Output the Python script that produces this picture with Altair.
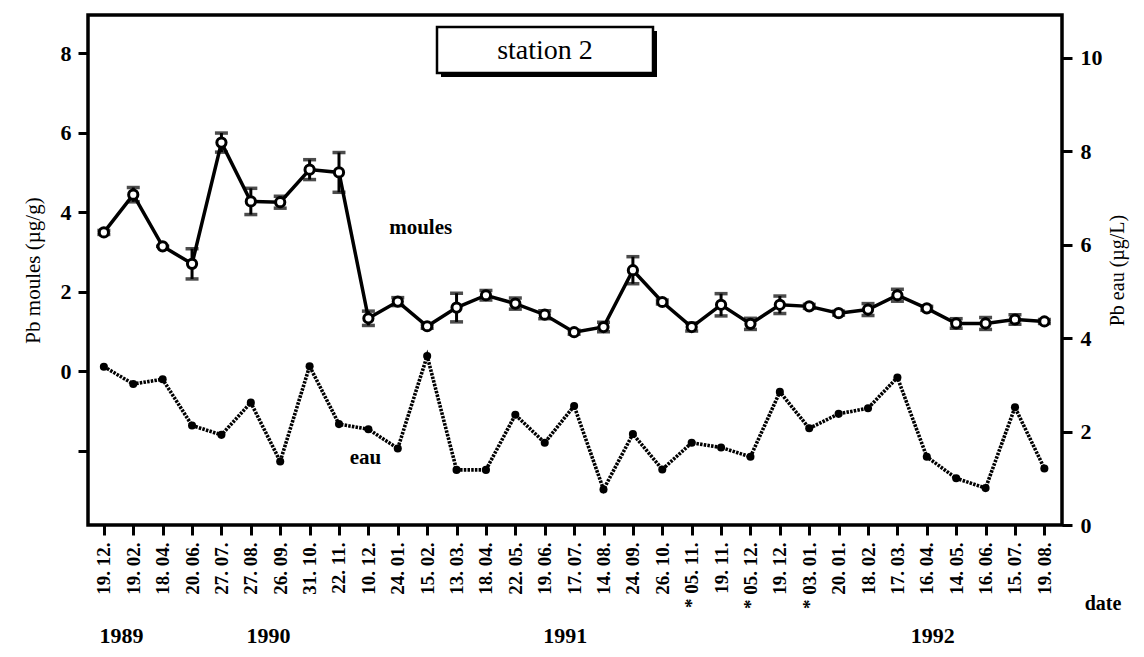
import altair as alt
import pandas as pd

# ---- data ----
dates = ["19. 12.", "19. 02.", "18. 04.", "20. 06.", "27. 07.", "27. 08.", "26. 09.",
         "31. 10.", "22. 11.", "10. 12.", "24. 01.", "15. 02.", "13. 03.", "18. 04.",
         "22. 05.", "19. 06.", "17. 07.", "14. 08.", "24. 09.", "26. 10.", "*  05. 11.",
         "19. 11.", "*  05. 12.", "19. 12.", "*  03. 01.", "20. 01.", "18. 02.", "17. 03.",
         "16. 04.", "14. 05.", "16. 06.", "15. 07.", "19. 08."]
moules = [3.49, 4.44, 3.14, 2.70, 5.75, 4.27, 4.25, 5.07, 5.00, 1.33, 1.75, 1.13, 1.60,
          1.91, 1.70, 1.42, 0.98, 1.11, 2.54, 1.74, 1.11, 1.67, 1.19, 1.67, 1.63, 1.46,
          1.55, 1.91, 1.58, 1.20, 1.20, 1.30, 1.25]
moules_err = [0.05, 0.18, 0.0, 0.38, 0.24, 0.33, 0.15, 0.25, 0.50, 0.18, 0.10, 0.05, 0.36,
              0.12, 0.14, 0.10, 0.05, 0.12, 0.34, 0.05, 0.10, 0.28, 0.14, 0.22, 0.05, 0.05,
              0.15, 0.15, 0.05, 0.12, 0.15, 0.12, 0.05]
eau = [3.39, 3.02, 3.12, 2.13, 1.93, 2.62, 1.36, 3.40, 2.16, 2.05, 1.64, 3.62, 1.18,
       1.18, 2.36, 1.76, 2.55, 0.76, 1.95, 1.19, 1.76, 1.66, 1.46, 2.85, 2.07, 2.38,
       2.50, 3.16, 1.46, 1.00, 0.79, 2.52, 1.21]
years = ["1989", "1990", "1991", "1992"]
year_pos = [0.6, 5.6, 15.7, 28.2]

FONT = "Liberation Serif"

df = pd.DataFrame({"i": list(range(len(dates))), "date": dates,
                   "moules": moules, "err": moules_err, "eau": eau})
df["lo"] = df["moules"] - df["err"]
df["hi"] = df["moules"] + df["err"]

xscale = alt.Scale(domain=[-0.54, 32.6], nice=False, zero=False)
yl = alt.Scale(domain=[-3.87, 8.96], nice=False, zero=False)
yr = alt.Scale(domain=[0, 10.92], nice=False, zero=False)

label_expr = "[" + ",".join("'" + d + "'" for d in dates) + "][datum.value]"
xaxis = alt.Axis(values=list(range(len(dates))), labelExpr=label_expr, labelAngle=270,
                 labelFont=FONT, labelFontSize=19, labelFontWeight="bold", labelColor="black",
                 tickSize=10, tickWidth=3, tickColor="black", labelPadding=7,
                 domain=False, grid=False, title=None, labelOverlap=False)
X = alt.X("i:Q", scale=xscale, axis=xaxis)

laxis = alt.Axis(orient="left", values=[-2, 0, 2, 4, 6, 8],
                 labelExpr="datum.value < 0 ? '' : datum.label",
                 labelFont=FONT, labelFontSize=22, labelFontWeight="bold", labelColor="black",
                 tickSize=10, tickWidth=3, tickColor="black", labelPadding=7,
                 domain=False, grid=False, title="Pb moules (µg/g)", titleFont=FONT,
                 titleFontSize=21, titleFontWeight="normal", titleColor="black",
                 titlePadding=17)
raxis = alt.Axis(orient="right", values=[0, 2, 4, 6, 8, 10],
                 labelFont=FONT, labelFontSize=22, labelFontWeight="bold", labelColor="black",
                 tickSize=10, tickWidth=3, tickColor="black", labelPadding=8,
                 domain=False, grid=False, title="Pb eau (µg/L)", titleFont=FONT,
                 titleFontSize=20, titleFontWeight="normal", titleColor="black",
                 titleAngle=270, titleBaseline="top", titlePadding=5)

base = alt.Chart(df)

# moules series (left axis)
m_rule = base.mark_rule(color="black", strokeWidth=3).encode(
    x=X, y=alt.Y("lo:Q", scale=yl, axis=laxis), y2="hi:Q")
m_cap_lo = base.mark_tick(color="black", orient="horizontal", size=13, thickness=3.5).encode(
    x=X, y=alt.Y("lo:Q", scale=yl, axis=laxis))
m_cap_hi = base.mark_tick(color="black", orient="horizontal", size=13, thickness=3.5).encode(
    x=X, y=alt.Y("hi:Q", scale=yl, axis=laxis))
m_line = base.mark_line(color="black", strokeWidth=3.5).encode(
    x=X, y=alt.Y("moules:Q", scale=yl, axis=laxis))
m_pts = base.mark_point(shape="circle", filled=True, fill="white", stroke="black",
                        strokeWidth=3, size=85, opacity=1).encode(
    x=X, y=alt.Y("moules:Q", scale=yl, axis=laxis))
m_lab = alt.Chart(pd.DataFrame({"i": [10.78], "v": [3.6], "t": ["moules"]})).mark_text(
    font=FONT, fontSize=21, fontWeight="bold", color="black", align="center",
    baseline="middle").encode(
    x=X, y=alt.Y("v:Q", scale=yl, axis=laxis), text="t:N")
moules_layer = alt.layer(m_rule, m_cap_lo, m_cap_hi, m_line, m_pts, m_lab)

# eau series (right axis)
e_line = base.mark_line(color="black", strokeWidth=3.6, strokeDash=[2.5, 1.2]).encode(
    x=X, y=alt.Y("eau:Q", scale=yr, axis=raxis))
e_pts = base.mark_circle(color="black", size=65, opacity=1).encode(
    x=X, y=alt.Y("eau:Q", scale=yr, axis=raxis))
e_lab = alt.Chart(pd.DataFrame({"i": [8.9], "v": [1.43], "t": ["eau"]})).mark_text(
    font=FONT, fontSize=21, fontWeight="bold", color="black", align="center",
    baseline="middle").encode(
    x=X, y=alt.Y("v:Q", scale=yr, axis=raxis), text="t:N")
eau_layer = alt.layer(e_line, e_pts, e_lab)

# annotations
box_df = pd.DataFrame({"t": ["station 2"]})
shadow = alt.Chart(box_df).mark_rect(fill="black").encode(
    x=alt.value(353), x2=alt.value(569), y=alt.value(16), y2=alt.value(62))
box = alt.Chart(box_df).mark_rect(fill="white", stroke="black", strokeWidth=2.5).encode(
    x=alt.value(349), x2=alt.value(565), y=alt.value(12), y2=alt.value(58))
box_txt = alt.Chart(box_df).mark_text(font=FONT, fontSize=28, color="black",
                                      align="center", baseline="middle").encode(
    x=alt.value(457), y=alt.value(36), text="t:N")
yr_df = pd.DataFrame({"i": year_pos, "t": years})
yr_txt = alt.Chart(yr_df).mark_text(font=FONT, fontSize=22, fontWeight="bold", color="black",
                                    align="center", baseline="middle").encode(
    x=X, y=alt.value(621), text="t:N")
date_txt = alt.Chart(pd.DataFrame({"t": ["date"]})).mark_text(
    font=FONT, fontSize=20, fontWeight="bold", color="black", align="center",
    baseline="middle").encode(x=alt.value(1015), y=alt.value(589), text="t:N")

chart = alt.layer(moules_layer, eau_layer, shadow, box, box_txt, yr_txt, date_txt).resolve_scale(
    y="independent"
).properties(
    width=974, height=510,
    autosize=alt.AutoSizeParams(type="none"),
    padding={"left": 80, "top": 7, "right": 74, "bottom": 122},
    background="white",
).configure_view(stroke="black", strokeWidth=3.5)

chart.save("out.html", embed_options={"renderer": "svg", "actions": False})
